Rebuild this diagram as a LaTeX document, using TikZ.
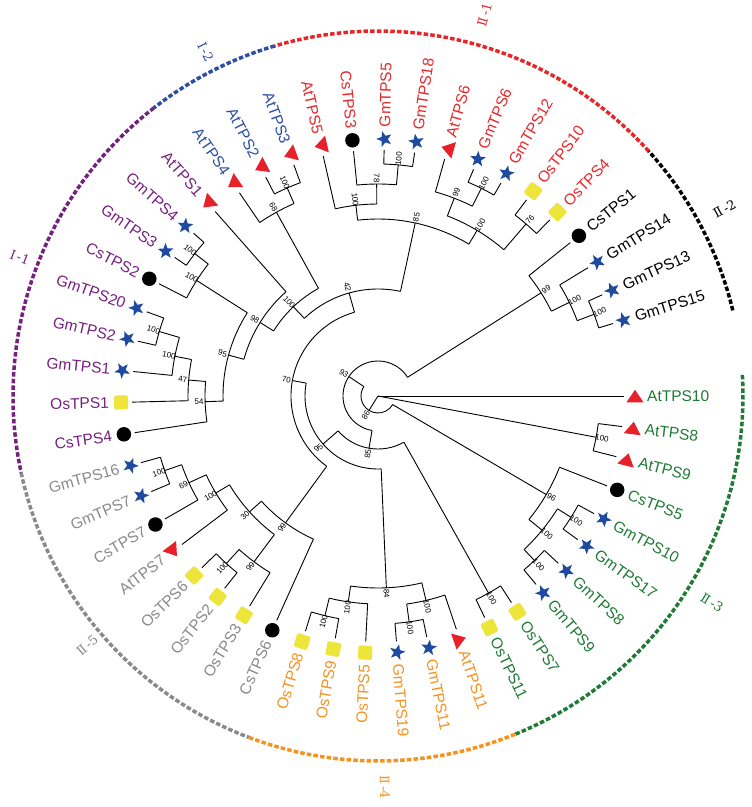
\documentclass[tikz,border=0pt]{standalone}
\usepackage{fontspec}
\setmainfont{Liberation Sans}
\newfontfamily\cladefont{DejaVu Serif}
\usetikzlibrary{shapes.geometric}
\definecolor{cred}{HTML}{E8262A}
\definecolor{cblue}{HTML}{2C4FA3}
\definecolor{cpurple}{HTML}{75217F}
\definecolor{cgray}{HTML}{8A8A8A}
\definecolor{corange}{HTML}{F5931E}
\definecolor{cgreen}{HTML}{1F7B35}
\definecolor{cstar}{HTML}{1E4BA0}
\definecolor{ctri}{HTML}{E8202A}
\definecolor{csq}{HTML}{EEE53A}
\tikzset{
  branch/.style={line width=0.9pt, black},
  leaflab/.style={font=\fontsize{15.5}{18}\selectfont, inner sep=0pt},
  bs/.style={font=\fontsize{8}{9}\selectfont, inner sep=0pt},
  cladearc/.style={line width=3.5pt, dash pattern=on 4.5pt off 2.2pt},
  cladelab/.style={font=\cladefont\fontsize{13}{15}\selectfont, inner sep=0pt},
}
% internal tree node: name, angle, radius, parent radius, bootstrap
\newcommand{\tnode}[5]{%
  \coordinate (#1) at (#2:#3);
  \coordinate (#1-b) at (#2:#4);
  \draw[branch] (#1-b) -- (#1);
  \pgfmathtruncatemacro{\flip}{and(#2>90,#2<270)}%
  \pgfmathsetmacro{\rr}{#3+6}%
  \ifnum\flip=1
    \node[bs, rotate=#2-180] (#1-v) at (#2:\rr) {#5};
  \else
    \node[bs, rotate=#2] (#1-v) at (#2:\rr) {#5};
  \fi
}
% arc of a node: first child, start angle, end angle, radius
\newcommand{\tarc}[4]{\draw[branch] (#1-b) arc[start angle=#2, end angle=#3, radius=#4];}
% markers
\newcommand{\mstar}[2]{\node[star, star points=5, star point ratio=2.4, fill=cstar, inner sep=0pt, minimum size=16.5pt, rotate=#1] (#2) at (#1:257) {};}
\newcommand{\mcirc}[2]{\node[circle, fill=black, inner sep=0pt, minimum size=14.5pt] (#2) at (#1:257) {};}
\newcommand{\msq}[2]{\node[rectangle, fill=csq, inner sep=0pt, minimum size=14pt, rounded corners=1.5pt, rotate=#1] (#2) at (#1:257) {};}
\newcommand{\mtri}[2]{\coordinate (#2) at (#1:257); \fill[ctri, shift={(#2)}, rotate=#1] (-8.5,-6.3) -- (8.5,-6.3) -- (0,6.3) -- cycle;}
% leaf: name, angle, parent radius, marker, colour, text
\newcommand{\leaf}[6]{%
  \coordinate (#1-b) at (#2:#3);
  \coordinate (#1) at (#2:246);
  \draw[branch] (#1-b) -- (#1);
  #4{#2}{#1-m}%
  \pgfmathtruncatemacro{\flip}{and(#2>90,#2<270)}%
  \ifnum\flip=1
    \node[leaflab, text=#5, anchor=east, rotate=#2-180] (#1-t) at (#2:269) {#6};
  \else
    \node[leaflab, text=#5, anchor=west, rotate=#2] (#1-t) at (#2:269) {#6};
  \fi
}
\begin{document}
\begin{tikzpicture}[x=1pt,y=1pt]
\useasboundingbox[fill=white] (-378,-411) rectangle (374,396);

% internal nodes
\tnode{a1}{20.714}{231}{213}{100}
\tnode{a2}{26.071}{213}{193}{100}
\tnode{a3}{32.321}{193}{35}{99}
\tnode{b1}{85}{232}{212}{100}
\tnode{b2}{90.357}{212}{192}{78}
\tnode{b3}{96.607}{192}{177}{100}
\tnode{b4}{63.571}{232}{212}{100}
\tnode{b5}{68.929}{212}{193}{99}
\tnode{b6}{49.286}{227}{193}{76}
\tnode{b7}{59.107}{193}{177}{100}
\tnode{b8}{77.857}{177}{107}{85}
\tnode{c1}{113.571}{227}{210}{100}
\tnode{c2}{118.929}{210}{123}{68}
\tnode{c3}{133.493}{123}{107}{100}
\tnode{d1}{142.143}{232}{215}{100}
\tnode{d2}{147.5}{215}{155}{100}
\tnode{d3}{163.571}{228}{207}{100}
\tnode{d4}{168.929}{207}{190}{100}
\tnode{d5}{175.179}{190}{173}{47}
\tnode{d6}{181.875}{173}{155}{54}
\tnode{d7}{164.688}{155}{139}{95}
\tnode{d8}{148.058}{139}{123}{98}
\tnode{e1}{105.675}{107}{87}{42}
\tnode{f1}{199.286}{226}{208}{100}
\tnode{f2}{204.643}{208}{189}{69}
\tnode{f3}{210.893}{189}{173}{100}
\tnode{f4}{227.857}{226}{207}{100}
\tnode{f5}{233.214}{207}{173}{99}
\tnode{f6}{222.054}{173}{157}{30}
\tnode{f7}{233.884}{157}{87}{99}
\tnode{g1}{169.78}{87}{73}{70}
\tnode{h1}{256.429}{226}{208}{100}
\tnode{h2}{261.786}{208}{192}{100}
\tnode{h3}{277.857}{228}{210}{100}
\tnode{h4}{283.214}{210}{192}{100}
\tnode{h5}{272.5}{192}{73}{84}
\tnode{i1}{221.14}{73}{53}{95}
\tnode{j1}{299.286}{226}{53}{100}
\tnode{k1}{260.213}{53}{35}{85}
\tnode{m1}{146.267}{35}{17}{93}
\tnode{n1}{313.571}{227}{212}{100}
\tnode{n2}{327.857}{228}{212}{100}
\tnode{n3}{320.714}{212}{195}{100}
\tnode{n4}{329.643}{195}{17}{96}
\tnode{p1}{237.955}{17}{0}{86}
\tnode{q1}{349.286}{222}{0}{100}

% leaves
\leaf{GmTPS15}{17.143}{231}{\mstar}{black}{GmTPS15}
\leaf{GmTPS13}{24.286}{231}{\mstar}{black}{GmTPS13}
\leaf{GmTPS14}{31.429}{213}{\mstar}{black}{GmTPS14}
\leaf{CsTPS1}{38.571}{193}{\mcirc}{black}{CsTPS1}
\leaf{OsTPS4}{45.714}{227}{\msq}{cred}{OsTPS4}
\leaf{OsTPS10}{52.857}{227}{\msq}{cred}{OsTPS10}
\leaf{GmTPS12}{60}{232}{\mstar}{cred}{GmTPS12}
\leaf{GmTPS6}{67.143}{232}{\mstar}{cred}{GmTPS6}
\leaf{AtTPS6}{74.286}{212}{\mtri}{cred}{AtTPS6}
\leaf{GmTPS18}{81.429}{232}{\mstar}{cred}{GmTPS18}
\leaf{GmTPS5}{88.571}{232}{\mstar}{cred}{GmTPS5}
\leaf{CsTPS3}{95.714}{212}{\mcirc}{cred}{CsTPS3}
\leaf{AtTPS5}{102.857}{192}{\mtri}{cred}{AtTPS5}
\leaf{AtTPS3}{110}{227}{\mtri}{cblue}{AtTPS3}
\leaf{AtTPS2}{117.143}{227}{\mtri}{cblue}{AtTPS2}
\leaf{AtTPS4}{124.286}{210}{\mtri}{cblue}{AtTPS4}
\leaf{AtTPS1}{131.429}{139}{\mtri}{cpurple}{AtTPS1}
\leaf{GmTPS4}{138.571}{232}{\mstar}{cpurple}{GmTPS4}
\leaf{GmTPS3}{145.714}{232}{\mstar}{cpurple}{GmTPS3}
\leaf{CsTPS2}{152.857}{215}{\mcirc}{cpurple}{CsTPS2}
\leaf{GmTPS20}{160}{228}{\mstar}{cpurple}{GmTPS20}
\leaf{GmTPS2}{167.143}{228}{\mstar}{cpurple}{GmTPS2}
\leaf{GmTPS1}{174.286}{207}{\mstar}{cpurple}{GmTPS1}
\leaf{OsTPS1}{181.429}{190}{\msq}{cpurple}{OsTPS1}
\leaf{CsTPS4}{188.571}{173}{\mcirc}{cpurple}{CsTPS4}
\leaf{GmTPS16}{195.714}{226}{\mstar}{cgray}{GmTPS16}
\leaf{GmTPS7}{202.857}{226}{\mstar}{cgray}{GmTPS7}
\leaf{CsTPS7}{210}{208}{\mcirc}{cgray}{CsTPS7}
\leaf{AtTPS7}{217.143}{189}{\mtri}{cgray}{AtTPS7}
\leaf{OsTPS6}{224.286}{226}{\msq}{cgray}{OsTPS6}
\leaf{OsTPS2}{231.429}{226}{\msq}{cgray}{OsTPS2}
\leaf{OsTPS3}{238.571}{207}{\msq}{cgray}{OsTPS3}
\leaf{CsTPS6}{245.714}{157}{\mcirc}{cgray}{CsTPS6}
\leaf{OsTPS8}{252.857}{226}{\msq}{corange}{OsTPS8}
\leaf{OsTPS9}{260}{226}{\msq}{corange}{OsTPS9}
\leaf{OsTPS5}{267.143}{208}{\msq}{corange}{OsTPS5}
\leaf{GmTPS19}{274.286}{228}{\mstar}{corange}{GmTPS19}
\leaf{GmTPS11}{281.429}{228}{\mstar}{corange}{GmTPS11}
\leaf{AtTPS11}{288.571}{210}{\mtri}{corange}{AtTPS11}
\leaf{OsTPS11}{295.714}{226}{\msq}{cgreen}{OsTPS11}
\leaf{OsTPS7}{302.857}{226}{\msq}{cgreen}{OsTPS7}
\leaf{GmTPS9}{310}{227}{\mstar}{cgreen}{GmTPS9}
\leaf{GmTPS8}{317.143}{227}{\mstar}{cgreen}{GmTPS8}
\leaf{GmTPS17}{324.286}{228}{\mstar}{cgreen}{GmTPS17}
\leaf{GmTPS10}{331.429}{228}{\mstar}{cgreen}{GmTPS10}
\leaf{CsTPS5}{338.571}{195}{\mcirc}{cgreen}{CsTPS5}
\leaf{AtTPS9}{345.714}{222}{\mtri}{cgreen}{AtTPS9}
\leaf{AtTPS8}{352.857}{222}{\mtri}{cgreen}{AtTPS8}
\leaf{AtTPS10}{0}{0}{\mtri}{cgreen}{AtTPS10}

% arcs of the internal nodes
\tarc{GmTPS15}{17.143}{24.286}{231}
\tarc{a1}{20.714}{31.429}{213}
\tarc{a2}{26.071}{38.571}{193}
\tarc{GmTPS18}{81.429}{88.571}{232}
\tarc{b1}{85}{95.714}{212}
\tarc{b2}{90.357}{102.857}{192}
\tarc{GmTPS12}{60}{67.143}{232}
\tarc{b4}{63.571}{74.286}{212}
\tarc{OsTPS4}{45.714}{52.857}{227}
\tarc{b6}{49.286}{68.929}{193}
\tarc{b7}{59.107}{96.607}{177}
\tarc{AtTPS3}{110}{117.143}{227}
\tarc{c1}{113.571}{124.286}{210}
\tarc{GmTPS4}{138.571}{145.714}{232}
\tarc{d1}{142.143}{152.857}{215}
\tarc{GmTPS20}{160}{167.143}{228}
\tarc{d3}{163.571}{174.286}{207}
\tarc{d4}{168.929}{181.429}{190}
\tarc{d5}{175.179}{188.571}{173}
\tarc{d2}{147.5}{181.875}{155}
\tarc{AtTPS1}{131.429}{164.688}{139}
\tarc{c2}{118.929}{148.058}{123}
\tarc{b8}{77.857}{133.493}{107}
\tarc{GmTPS16}{195.714}{202.857}{226}
\tarc{f1}{199.286}{210}{208}
\tarc{f2}{204.643}{217.143}{189}
\tarc{OsTPS6}{224.286}{231.429}{226}
\tarc{f4}{227.857}{238.571}{207}
\tarc{f3}{210.893}{233.214}{173}
\tarc{f6}{222.054}{245.714}{157}
\tarc{e1}{105.675}{233.884}{87}
\tarc{OsTPS8}{252.857}{260}{226}
\tarc{h1}{256.429}{267.143}{208}
\tarc{GmTPS19}{274.286}{281.429}{228}
\tarc{h3}{277.857}{288.571}{210}
\tarc{h2}{261.786}{283.214}{192}
\tarc{g1}{169.78}{272.5}{73}
\tarc{OsTPS11}{295.714}{302.857}{226}
\tarc{i1}{221.14}{299.286}{53}
\tarc{a3}{32.321}{260.213}{35}
\tarc{GmTPS9}{310}{317.143}{227}
\tarc{GmTPS17}{324.286}{331.429}{228}
\tarc{n1}{313.571}{327.857}{212}
\tarc{n3}{320.714}{338.571}{195}
\tarc{m1}{146.267}{329.643}{17}
\tarc{AtTPS9}{345.714}{352.857}{222}

% outer clade arcs
\coordinate (s22) at (13.57:365);
\coordinate (s21) at (42.14:365);
\coordinate (s12) at (106.43:365);
\coordinate (s11) at (127.86:365);
\coordinate (s25) at (192.14:365);
\coordinate (s24) at (249.29:365);
\coordinate (s23) at (292.14:365);
\draw[cladearc, black] (s22) arc[start angle=13.57, end angle=42.14, radius=365];
\draw[cladearc, cred] (s21) arc[start angle=42.14, end angle=106.43, radius=365];
\draw[cladearc, cblue] (s12) arc[start angle=106.43, end angle=127.86, radius=365];
\draw[cladearc, cpurple] (s11) arc[start angle=127.86, end angle=192.14, radius=365];
\draw[cladearc, cgray] (s25) arc[start angle=192.14, end angle=249.29, radius=365];
\draw[cladearc, corange] (s24) arc[start angle=249.29, end angle=292.14, radius=365];
\draw[cladearc, cgreen] (s23) arc[start angle=292.14, end angle=363.57, radius=365];

% clade labels
\node[cladelab, text=cblue, rotate=116.6-180] (lI2) at (116.6:385) {Ⅰ\,-2};
\node[cladelab, text=cred, rotate=74.4] (lII1) at (74.4:396) {Ⅱ\,-1};
\node[cladelab, text=black, rotate=28.4] (lII2) at (28.4:394) {Ⅱ\,-2};
\node[cladelab, text=cpurple, rotate=158.8-180] (lI1) at (158.8:384) {Ⅰ\,-1};
\node[cladelab, text=cgray, rotate=220.6-180] (lII5) at (220.6:383) {Ⅱ\,-5};
\node[cladelab, text=corange, rotate=271] (lII4) at (271:391) {Ⅱ\,-4};
\node[cladelab, text=cgreen, rotate=328.2] (lII3) at (328.2:393) {Ⅱ\,-3};
\end{tikzpicture}
\end{document}
